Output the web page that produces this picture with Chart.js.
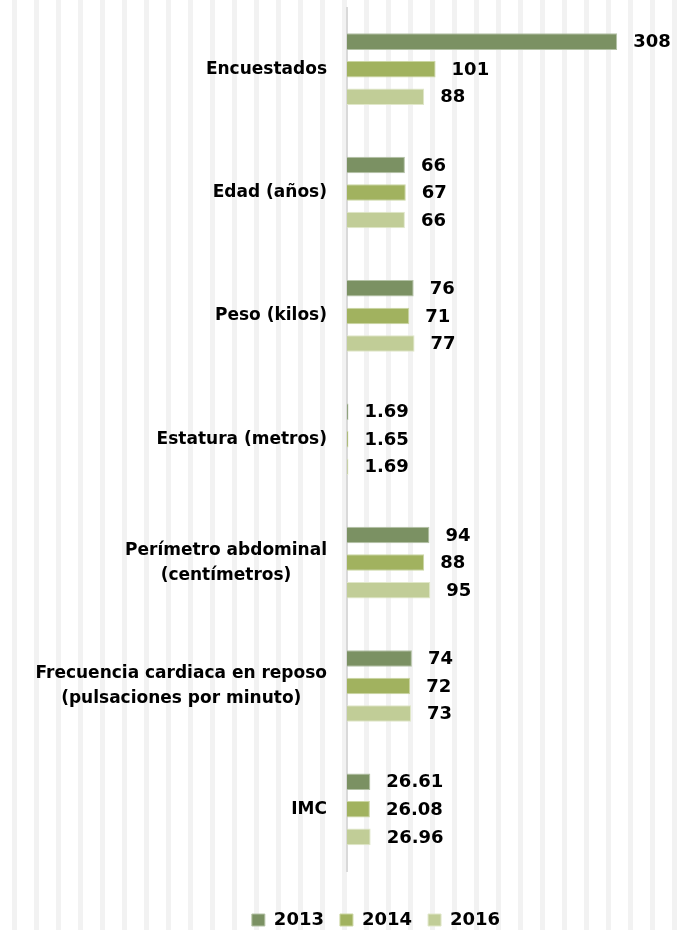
<!DOCTYPE html>
<html>
<head>
<meta charset="utf-8">
<script src="https://cdn.jsdelivr.net/npm/chart.js@4.4.1/dist/chart.umd.min.js"></script>
<style>
  html, body { margin: 0; padding: 0; }
  body {
    width: 686px; height: 930px;
    background: repeating-linear-gradient(to right, #ffffff 0px, #ffffff 12px, #f2f2f2 12px, #f2f2f2 17px, #ffffff 17px, #ffffff 22px);
  }
  #wrap { position: relative; width: 686px; height: 930px; }
</style>
</head>
<body>
<div id="wrap"><canvas id="resumenChart"></canvas></div>
<script>
const categorias = [
  ['Encuestados'],
  ['Edad (años)'],
  ['Peso (kilos)'],
  ['Estatura (metros)'],
  ['Perímetro abdominal', '(centímetros)'],
  ['Frecuencia cardiaca en reposo', '(pulsaciones por minuto)'],
  ['IMC']
];
const datos2013 = [308, 66, 76, 1.69, 94, 74, 26.61];
const datos2014 = [101, 67, 71, 1.65, 88, 72, 26.08];
const datos2016 = [88, 66, 77, 1.69, 95, 73, 26.96];

const fuente = '"DejaVu Sans", Verdana, sans-serif';

// etiquetas de categoria: cada bloque alineado a la derecha, lineas centradas entre si
const etiquetasCategoria = {
  id: 'etiquetasCategoria',
  afterDraw(chart) {
    const ctx = chart.ctx;
    const y = chart.scales.y;
    const right = chart.chartArea.left - 20;
    ctx.save();
    ctx.font = 'bold 17px ' + fuente;
    ctx.fillStyle = '#000';
    ctx.textAlign = 'center';
    ctx.textBaseline = 'middle';
    categorias.forEach((lineas, i) => {
      const w = Math.max(...lineas.map(l => ctx.measureText(l).width));
      const cy = y.getPixelForValue(i);
      const lh = 25;
      lineas.forEach((l, j) => {
        ctx.fillText(l, right - w / 2, cy + (j - (lineas.length - 1) / 2) * lh);
      });
    });
    ctx.restore();
  }
};

// valores al final de cada barra
const etiquetasValor = {
  id: 'etiquetasValor',
  afterDatasetsDraw(chart) {
    const ctx = chart.ctx;
    ctx.save();
    ctx.font = 'bold 18px ' + fuente;
    ctx.fillStyle = '#000';
    ctx.textAlign = 'left';
    ctx.textBaseline = 'middle';
    chart.data.datasets.forEach((ds, di) => {
      chart.getDatasetMeta(di).data.forEach((bar, i) => {
        ctx.fillText(String(ds.data[i]), bar.x + 16, bar.y + 1);
      });
    });
    ctx.restore();
  }
};

const ctx1 = document.getElementById('resumenChart').getContext('2d');
const resumenChart = new Chart(ctx1, {
  type: 'bar',
  data: {
    labels: categorias,
    datasets: [
      { label: '2013', data: datos2013, backgroundColor: '#7b9163', borderColor: '#b4c2a6', borderWidth: 1 },
      { label: '2014', data: datos2014, backgroundColor: '#a1b25f', borderColor: '#cbd6a3', borderWidth: 1 },
      { label: '2016', data: datos2016, backgroundColor: '#c1cd97', borderColor: '#e0e7c9', borderWidth: 1 }
    ]
  },
  options: {
    indexAxis: 'y',
    responsive: true,
    maintainAspectRatio: false,
    animation: false,
    categoryPercentage: 0.67,
    barPercentage: 0.6,
    layout: { padding: { left: 98, right: 32, top: 7.5, bottom: -9 } },
    scales: {
      x: {
        display: true, min: 0, max: 350,
        afterFit(scale) { scale.height = 24; },
        ticks: { display: false },
        grid: { display: false },
        border: { display: false }
      },
      y: {
        afterFit(scale) { scale.width = 249; },
        ticks: { display: false },
        grid: { display: false },
        border: { display: true, color: '#d9d9d9', width: 2 }
      }
    },
    plugins: {
      tooltip: { enabled: false },
      legend: {
        position: 'bottom',
        labels: {
          boxWidth: 13,
          boxHeight: 12,
          padding: 16,
          color: '#000',
          font: { family: fuente, size: 18, weight: 'bold' }
        }
      }
    }
  },
  plugins: [etiquetasCategoria, etiquetasValor]
});
</script>
</body>
</html>
